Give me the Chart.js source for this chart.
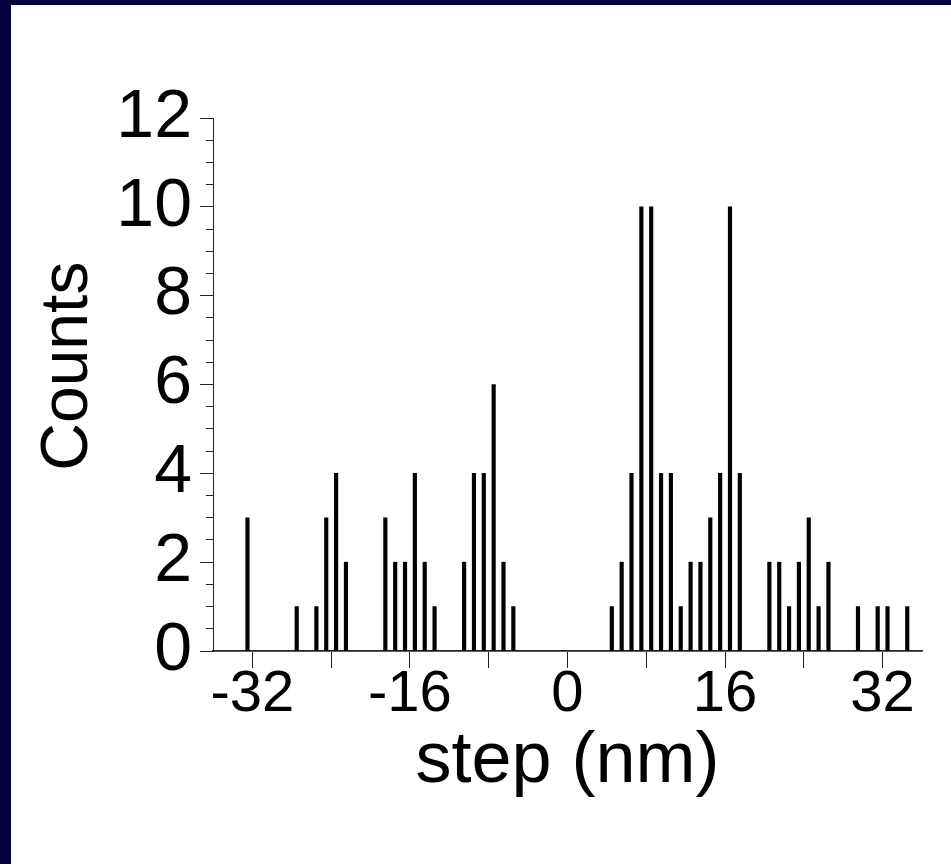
<!DOCTYPE html>
<html>
<head>
<meta charset="utf-8">
<script src="https://cdn.jsdelivr.net/npm/chart.js@4"></script>
<style>
body { margin: 0; background: #fff; }
#frame { width: 940px; height: 859px; border-left: 11px solid #050040; border-top: 5px solid #050040; }
</style>
</head>
<body>
<div id="frame"><canvas id="chart" width="940" height="859"></canvas></div>
<script>
// bin centres (nm) and counts
const steps = [-32.5, -27.5, -25.5, -24.5, -23.5, -22.5,
    -18.5, -17.5, -16.5, -15.5, -14.5, -13.5,
    -10.5, -9.5, -8.5, -7.5, -6.5, -5.5,
    4.5, 5.5, 6.5, 7.5, 8.5, 9.5, 10.5, 11.5, 12.5, 13.5, 14.5, 15.5, 16.5, 17.5,
    20.5, 21.5, 22.5, 23.5, 24.5, 25.5, 26.5,
    29.5, 31.5, 32.5, 34.5];
const counts = [3, 1, 1, 3, 4, 2,
    3, 2, 2, 4, 2, 1,
    2, 4, 4, 6, 2, 1,
    1, 2, 4, 10, 10, 4, 4, 1, 2, 2, 3, 4, 10, 4,
    2, 2, 1, 2, 3, 1, 2,
    1, 1, 1, 1];
const xTicks = [-32, -24, -16, -8, 0, 8, 16, 24, 32];
const xTickLabels = [-32, -16, 0, 16, 32];
const yTickLabels = [0, 2, 4, 6, 8, 10, 12];

const font = "'Liberation Sans', Arial, sans-serif";
const axisColor = "#222";

function makeHistogram(canvas) {
    const ctx = document.getElementById(canvas);
    new Chart(ctx, {
        type: "bar",
        data: {
            datasets: [
                {
                    label: "Counts",
                    data: steps.map((s, i) => ({ x: s, y: counts[i] })),
                    backgroundColor: "#000",
                    barThickness: 3.5
                }
            ]
        },
        options: {
            responsive: false,
            animation: false,
            layout: { padding: { left: 0, top: 113, right: 29, bottom: 0 } },
            plugins: {
                legend: { display: false },
                tooltip: { enabled: false }
            },
            scales: {
                x: {
                    type: "linear",
                    min: -36,
                    max: 36,
                    offset: false,
                    afterFit: s => { s.height = 213; },
                    afterBuildTicks: s => { s.ticks = xTicks.map(v => ({ value: v })); },
                    ticks: {
                        autoSkip: false,
                        maxRotation: 0,
                        padding: -8,
                        color: "#000",
                        font: { family: font, size: 58 },
                        callback: v => xTickLabels.includes(v) ? String(v) : ""
                    },
                    grid: {
                        drawOnChartArea: false,
                        offset: false,
                        tickLength: 17,
                        tickColor: axisColor
                    },
                    border: { color: axisColor, width: 1.5, dash: [4, 6] },
                    title: {
                        display: true,
                        text: "step (nm)",
                        color: "#000",
                        font: { family: font, size: 72 },
                        padding: { top: 0, bottom: 59 }
                    }
                },
                y: {
                    min: 0,
                    max: 12,
                    afterFit: s => { s.width = 202; },
                    ticks: {
                        stepSize: 0.5,
                        autoSkip: false,
                        padding: 8,
                        color: "#000",
                        font: { family: font, size: 68 },
                        callback: v => yTickLabels.includes(v) ? String(v) : ""
                    },
                    grid: {
                        drawOnChartArea: true,
                        color: c => c.tick && c.tick.value === 0 ? "#999" : "rgba(0,0,0,0)",
                        tickLength: 13,
                        tickColor: axisColor,
                        tickBorderDash: c => c.tick && yTickLabels.includes(c.tick.value) ? [] : [0, 6, 7, 40]
                    },
                    border: { color: axisColor, width: 1 },
                    title: {
                        display: true,
                        text: "  Counts",
                        color: "#000",
                        font: { family: font, size: 66 },
                        padding: { top: 18, bottom: 0 }
                    }
                }
            }
        }
    });
}

makeHistogram("chart");
</script>
</body>
</html>
